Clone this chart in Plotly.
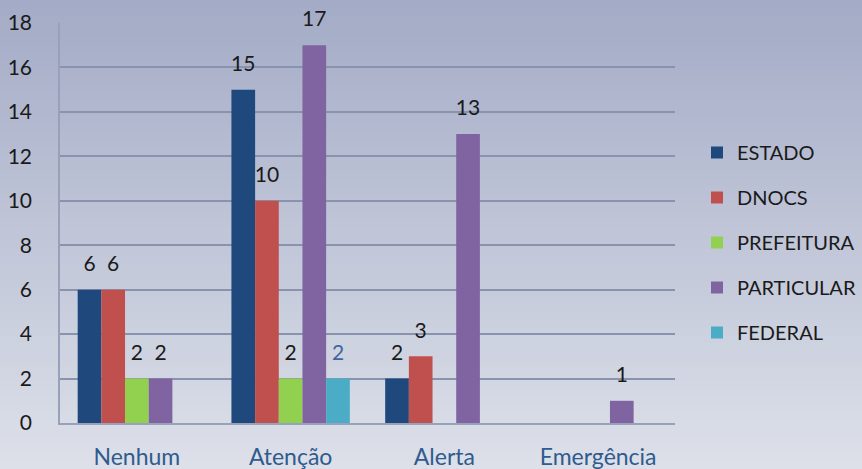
import plotly.graph_objects as go

# Nível de alerta dos açudes por responsável
categorias = ["Nenhum", "Atenção", "Alerta", "Emergência"]
estado = [6, 15, 2, None]
dnocs = [6, 10, 3, None]
prefeitura = [2, 2, None, None]
particular = [2, 17, 13, 1]
federal = [None, 2, None, None]

series = [
    ("ESTADO", estado, "#1f497d", "#1a1a1a"),
    ("DNOCS", dnocs, "#c0504d", "#1a1a1a"),
    ("PREFEITURA", prefeitura, "#92d050", "#1a1a1a"),
    ("PARTICULAR", particular, "#8064a2", "#1a1a1a"),
    ("FEDERAL", federal, "#4bacc6", "#3d66a0"),
]
y_ticks = list(range(0, 19, 2))

FONT = "Lato, 'Open Sans', sans-serif"
W, H = 862, 469
ML, MR, MT, MB = 60, 187, 23, 46

fig = go.Figure()

for nome, vals, cor, cor_txt in series:
    fig.add_trace(go.Bar(
        name=nome, x=categorias, y=vals, marker_color=cor,
        marker_line_width=0, legendgroup=nome, hoverinfo="skip",
    ))

# Rótulos de valor, alinhados às barras pelo agrupamento de scatter
for nome, vals, cor, cor_txt in series:
    fig.add_trace(go.Scatter(
        x=categorias, y=vals, mode="markers+text",
        text=[("" if v is None else str(v)) for v in vals],
        textposition="top center",
        textfont=dict(family=FONT, size=21, color=cor_txt),
        marker=dict(size=20, color="rgba(0,0,0,0)"),
        showlegend=False, hoverinfo="skip", cliponaxis=False,
    ))

# Fundo em degradê vertical
pw = W - ML - MR
ph = H - MT - MB
top_c = (163, 171, 198)
bot_c = (221, 224, 233)
n = 60
shapes = []
y_top = 1 + MT / ph
y_bot = -MB / ph
for k in range(n):
    t = k / (n - 1)
    c = tuple(round(top_c[j] + (bot_c[j] - top_c[j]) * t) for j in range(3))
    y1 = y_top - (y_top - y_bot) * k / n
    y0 = y_top - (y_top - y_bot) * (k + 1) / n
    shapes.append(dict(
        type="rect", xref="paper", yref="paper",
        x0=-ML / pw - 0.05, x1=1 + MR / pw + 0.05, y0=y0 - 0.002, y1=y1 + 0.002,
        fillcolor="rgb(%d,%d,%d)" % c, line_width=0, layer="below",
    ))

fig.update_layout(
    width=W, height=H,
    margin=dict(l=ML, r=MR, t=MT, b=MB, autoexpand=False),
    paper_bgcolor="rgba(0,0,0,0)", plot_bgcolor="rgba(0,0,0,0)",
    barmode="group", bargap=0.23, bargroupgap=0,
    scattermode="group", scattergap=0.23,
    shapes=shapes,
    showlegend=True,
    legend=dict(
        xref="container", yref="container",
        x=697 / W, y=1 - 133 / H, xanchor="left", yanchor="top",
        font=dict(family=FONT, size=20, color="#1a1a1a"),
        bgcolor="rgba(0,0,0,0)", tracegroupgap=16,
        itemwidth=30,
    ),
    font=dict(family=FONT),
)

fig.update_yaxes(
    range=[0, 18], tickvals=y_ticks, showgrid=True,
    gridcolor="#8a93ae", gridwidth=1.5,
    showline=True, linecolor="#98a0ba", linewidth=1.5,
    tickfont=dict(family=FONT, size=21, color="#1a1a1a"),
    ticks="", ticklabelstandoff=22, zeroline=False, automargin=False,
)
fig.update_xaxes(
    showline=True, linecolor="#98a0ba", linewidth=1.5,
    tickfont=dict(family=FONT, size=23, color="#2f5b8e"),
    ticks="", ticklabelstandoff=13, automargin=False,
)

fig.write_html("out.html")
